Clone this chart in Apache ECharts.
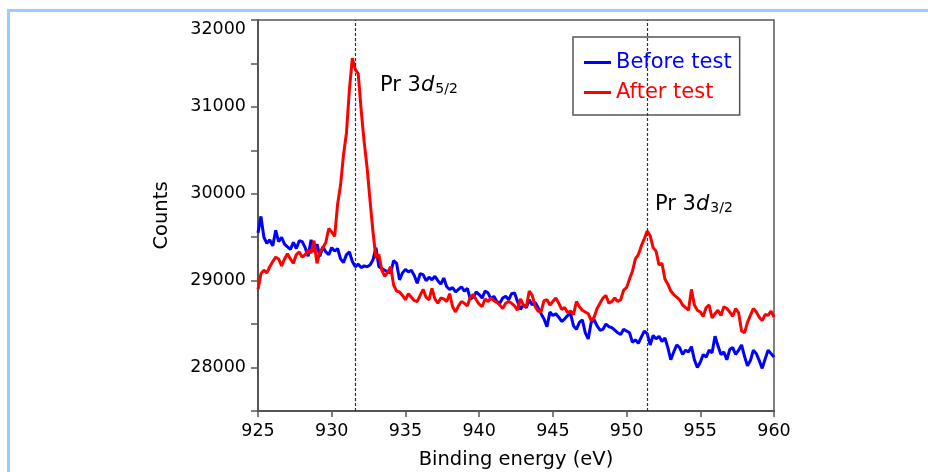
<!DOCTYPE html>
<html>
<head>
<meta charset="utf-8">
<title>Pr 3d XPS</title>
<script src="https://cdn.jsdelivr.net/npm/echarts@6/dist/echarts.min.js"></script>
<style>
  html, body { margin: 0; padding: 0; background: #fff; }
  #chart { width: 928px; height: 472px; }
</style>
</head>
<body>
<div id="chart"></div>
<script>
// binding energy grid: 925.0 -> 960.0 eV, 0.2 eV per point
var eStart = 925
var eStep = 0.2

// Before test (blue)
var beforeData = [
  29550, 29740, 29500, 29430, 29470, 29400, 29580, 29450, 29500, 29420,
  29390, 29360, 29440, 29370, 29460, 29450, 29380, 29280, 29470, 29330,
  29420, 29280, 29390, 29330, 29300, 29380, 29340, 29370, 29250, 29210,
  29300, 29330, 29220, 29160, 29190, 29150, 29170, 29160, 29180, 29240,
  29380, 29160, 29140, 29120, 29100, 29090, 29230, 29200, 29010, 29090,
  29130, 29100, 29120, 29060, 28970, 29080, 29070, 29000, 29040, 29010,
  29050, 29000, 28960, 29030, 28930, 28900, 28920, 28870, 28900, 28930,
  28880, 28910, 28790, 28810, 28870, 28840, 28800, 28880, 28860, 28790,
  28820, 28760, 28740, 28800, 28820, 28780, 28850, 28860, 28760, 28670,
  28720, 28690, 28780, 28720, 28750, 28690, 28620, 28560, 28470, 28640,
  28600, 28620, 28580, 28530, 28560, 28600, 28620, 28480, 28440, 28520,
  28550, 28400, 28330, 28520, 28550, 28480, 28430, 28440, 28500, 28470,
  28460, 28430, 28400, 28380, 28440, 28420, 28400, 28290, 28320, 28280,
  28350, 28420, 28390, 28260, 28370, 28330, 28360, 28300, 28340, 28230,
  28090, 28180, 28260, 28230, 28150, 28200, 28180, 28240, 28090, 28000,
  28060, 28150, 28120, 28200, 28170, 28360, 28250, 28150, 28180, 28090,
  28210, 28230, 28150, 28200, 28260, 28130, 28020, 28080, 28200, 28160,
  28080, 27990, 28100, 28200, 28160, 28120
]

// After test (red)
var afterData = [
  28900, 29080, 29120, 29090, 29160, 29220, 29270, 29250, 29170, 29250,
  29310, 29250, 29200, 29300, 29330, 29270, 29300, 29350, 29320, 29460,
  29200, 29330, 29380, 29440, 29600, 29560, 29510, 29880, 30100, 30450,
  30700, 31200, 31560, 31430, 31380, 30960, 30600, 30300, 29920, 29560,
  29260, 29300, 29120, 29050, 29100, 29160, 28950, 28880, 28870, 28830,
  28780, 28850, 28810, 28770, 28760, 28830, 28900, 28810, 28780, 28910,
  28790, 28740, 28800, 28790, 28760, 28850, 28700, 28640, 28710, 28760,
  28740, 28710, 28810, 28840, 28780, 28730, 28700, 28790, 28760, 28800,
  28770, 28750, 28720, 28680, 28740, 28760, 28740, 28710, 28660, 28790,
  28720, 28700, 28880, 28830, 28700, 28650, 28640, 28770, 28780, 28720,
  28760, 28800, 28740, 28670, 28690, 28630, 28650, 28610, 28760, 28700,
  28660, 28640, 28620, 28540, 28580, 28680, 28740, 28800, 28830, 28740,
  28760, 28800, 28760, 28780, 28890, 28920, 29020, 29110, 29250, 29300,
  29400, 29480, 29570, 29520, 29380, 29340, 29180, 29200, 29020, 28960,
  28880, 28840, 28810, 28780, 28720, 28690, 28660, 28900, 28720, 28660,
  28640, 28590, 28690, 28720, 28570, 28620, 28660, 28600, 28700, 28680,
  28640, 28590, 28680, 28630, 28420, 28400, 28520, 28600, 28680, 28640,
  28580, 28540, 28610, 28600, 28650, 28580
]

// peak positions (dashed guides)
var peakPos = [931.6, 951.4]

var fontMain = 'DejaVu Sans'

function toPairs(arr) {
  var out = []
  for (var i = 0; i < arr.length; i++) {
    out.push([+(eStart + i * eStep).toFixed(1), arr[i]])
  }
  return out
}

// rich text for the "Pr 3d" peak labels
var peakRich = {
  a: { fontSize: 21, fontFamily: fontMain, lineHeight: 24, verticalAlign: 'bottom' },
  i: { fontSize: 21, fontFamily: fontMain, fontStyle: 'italic', lineHeight: 24, verticalAlign: 'bottom' },
  s: { fontSize: 14, fontFamily: fontMain, lineHeight: 16, verticalAlign: 'bottom', padding: [0, 0, 0, 1] }
}

var chart = echarts.init(document.getElementById('chart'))

chart.setOption({
  animation: false,
  backgroundColor: '#fff',
  grid: {
    left: 258,
    right: 154,
    top: 20,
    bottom: 61,
    containLabel: false,
    outerBoundsMode: 'none',
    show: true,
    borderColor: '#555',
    borderWidth: 1.5
  },
  legend: {
    orient: 'vertical',
    left: 573,
    top: 37,
    padding: [15, 8, 12, 11],
    itemGap: 9,
    itemWidth: 27,
    itemHeight: 3,
    itemTextGap: 6,
    icon: 'rect',
    borderColor: '#555',
    borderWidth: 1.5,
    backgroundColor: '#fff',
    textStyle: { fontSize: 21, fontFamily: fontMain, lineHeight: 21 },
    data: [
      { name: 'Before test', textStyle: { color: '#0000ff' } },
      { name: 'After test', textStyle: { color: '#ff0000' } }
    ]
  },
  xAxis: {
    type: 'value',
    min: 925,
    max: 960,
    interval: 5,
    name: 'Binding energy (eV)',
    nameLocation: 'middle',
    nameGap: 39,
    nameTextStyle: { fontSize: 19.5, color: '#000', fontFamily: fontMain },
    axisLine: { lineStyle: { color: '#555', width: 2 } },
    axisTick: { show: true, inside: false, length: 6, lineStyle: { color: '#555', width: 1.5 } },
    axisLabel: { fontSize: 17.5, color: '#000', fontFamily: fontMain, margin: 11 },
    splitLine: { show: false }
  },
  yAxis: {
    type: 'value',
    min: 27500,
    max: 32000,
    interval: 500,
    name: 'Counts',
    nameLocation: 'middle',
    nameRotate: 90,
    nameGap: 86,
    nameTextStyle: { fontSize: 19.5, color: '#000', fontFamily: fontMain },
    axisLine: { show: true, lineStyle: { color: '#555', width: 2 } },
    axisTick: { show: true, inside: false, length: 7, lineStyle: { color: '#555', width: 1.5 } },
    axisLabel: {
      fontSize: 17.5,
      color: '#000',
      fontFamily: fontMain,
      margin: 12,
      verticalAlignMaxLabel: 'top',
      formatter: function(v) {
        return v % 1000 === 0 ? String(v) : ''
      }
    },
    splitLine: { show: false }
  },
  series: [
    {
      name: 'Before test',
      type: 'line',
      showSymbol: false,
      symbol: 'none',
      color: '#0000ff',
      lineStyle: { color: '#0000ff', width: 3 },
      data: toPairs(beforeData),
      markLine: {
        silent: true,
        symbol: ['none', 'none'],
        label: { show: false },
        lineStyle: { color: '#333', width: 1.2, type: [3, 2] },
        data: peakPos.map(function(p) { return { xAxis: p } })
      }
    },
    {
      name: 'After test',
      type: 'line',
      showSymbol: false,
      symbol: 'none',
      color: '#ff0000',
      lineStyle: { color: '#ff0000', width: 3 },
      data: toPairs(afterData)
    }
  ],
  graphic: [
    // light blue frame, top and left edges
    { type: 'line', shape: { x1: 7, y1: 10.5, x2: 928, y2: 10.5 }, style: { stroke: '#9ecbff', lineWidth: 3 } },
    { type: 'line', shape: { x1: 8.5, y1: 9, x2: 8.5, y2: 472 }, style: { stroke: '#9ecbff', lineWidth: 3 } },
    {
      type: 'text',
      left: 380,
      top: 75,
      style: { text: '{a|Pr 3}{i|d}{s|5/2}', fill: '#000', rich: peakRich }
    },
    {
      type: 'text',
      left: 655,
      top: 194,
      style: { text: '{a|Pr 3}{i|d}{s|3/2}', fill: '#000', rich: peakRich }
    }
  ]
})
</script>
</body>
</html>
